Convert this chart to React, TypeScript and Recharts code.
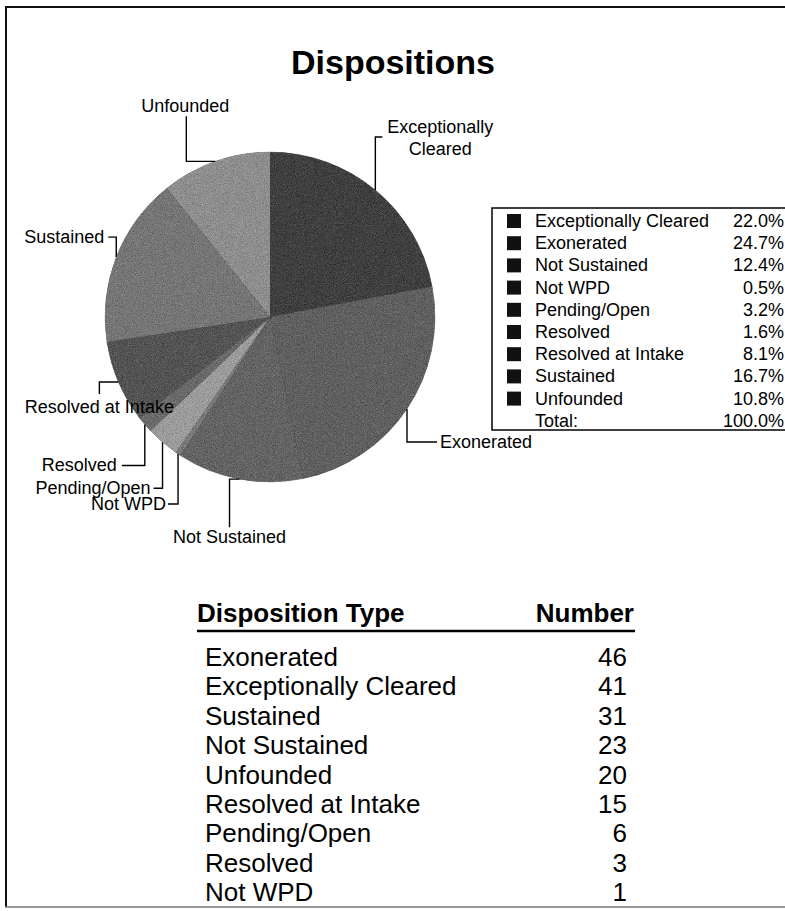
import { PieChart, Pie, Cell } from "recharts";

const categories = [
  "Exceptionally Cleared",
  "Exonerated",
  "Not Sustained",
  "Not WPD",
  "Pending/Open",
  "Resolved",
  "Resolved at Intake",
  "Sustained",
  "Unfounded",
];
const counts = [41, 46, 23, 1, 6, 3, 15, 31, 20];
const sliceColors = ["#404040", "#606060", "#646464", "#7a7a7a", "#9c9c9c", "#6a6a6a", "#545454", "#767676", "#8e8e8e"];

const FONT = "'Liberation Sans', Arial, sans-serif";

// leader line shape per slice: "vh" = vertical then horizontal, "hv" = horizontal then vertical
const labelLayout = [
  { path: "vh", a: -53, b: 7, tx: 58, ty: -4, anchor: "middle", lines: ["Exceptionally", "Cleared"] },
  { path: "vh", a: 33, b: 30, tx: 3, ty: 6, anchor: "start" },
  { path: "hv", a: -10, b: 48, tx: 0, ty: 16, anchor: "middle" },
  { path: "vh", a: 50, b: -10, tx: -2, ty: 6, anchor: "end" },
  { path: "vh", a: 46, b: -9, tx: -3, ty: 6, anchor: "end" },
  { path: "vh", a: 41, b: -23, tx: -5, ty: 6, anchor: "end" },
  { path: "hv", a: -19, b: 12, tx: 0, ty: 19, anchor: "middle" },
  { path: "vh", a: -20, b: -8, tx: -4, ty: 6, anchor: "end" },
  { path: "hv", a: -29, b: -45, tx: -1, ty: -4, anchor: "middle" },
];

const total = counts.reduce((s, v) => s + v, 0);
const pieData = categories.map((name, i) => ({ name, value: counts[i] }));
const tableRows = [...pieData].sort((a, b) => b.value - a.value);

const renderLabel = (props: any) => {
  const { cx, cy, midAngle, outerRadius, index } = props;
  const rad = Math.PI / 180;
  const ex = cx + outerRadius * Math.cos(-midAngle * rad);
  const ey = cy + outerRadius * Math.sin(-midAngle * rad);
  const L = labelLayout[index];
  let mx, my, x2, y2;
  if (L.path === "vh") {
    mx = ex;
    my = ey + L.a;
    x2 = ex + L.b;
    y2 = my;
  } else {
    mx = ex + L.a;
    my = ey;
    x2 = mx;
    y2 = ey + L.b;
  }
  const lines = L.lines || [categories[index]];
  return (
    <g key={`lbl-${index}`}>
      <polyline
        points={`${ex},${ey} ${mx},${my} ${x2},${y2}`}
        fill="none"
        stroke="#000"
        strokeWidth={1.4}
      />
      <text
        x={x2 + L.tx}
        y={y2 + L.ty}
        textAnchor={L.anchor as any}
        fontFamily={FONT}
        fontSize={18}
        fill="#000"
      >
        {lines.map((ln: string, k: number) => (
          <tspan key={k} x={x2 + L.tx} dy={k === 0 ? 0 : 22}>
            {ln}
          </tspan>
        ))}
      </text>
    </g>
  );
};

export default function App() {
  const legendTop = 208;
  const rowH = 22.2;
  return (
    <div style={{ position: "absolute", left: 0, top: 0, width: 785, height: 911, background: "#fff", overflow: "hidden" }}>
      <svg width={785} height={911} style={{ position: "absolute", left: 0, top: 0 }}>
        <defs>
          <filter id="grain" colorInterpolationFilters="sRGB">
            <feTurbulence type="fractalNoise" baseFrequency="1.1" numOctaves="2" seed="7" result="noise" />
            <feColorMatrix
              in="noise"
              type="matrix"
              values="0.33 0.33 0.33 0 0  0.33 0.33 0.33 0 0  0.33 0.33 0.33 0 0  0 0 0 0 1"
              result="gray"
            />
            <feComposite in="SourceGraphic" in2="gray" operator="arithmetic" k1="0" k2="1" k3="0.6" k4="-0.3" result="mix" />
            <feComposite in="mix" in2="SourceGraphic" operator="in" />
          </filter>
        </defs>
        {/* frame */}
        <line x1={5} y1={7} x2={785} y2={7} stroke="#111" strokeWidth={2} />
        <line x1={6} y1={6} x2={6} y2={907} stroke="#111" strokeWidth={2} />
        <line x1={5} y1={907} x2={785} y2={907} stroke="#777" strokeWidth={1.5} />

        <text x={393} y={74} textAnchor="middle" fontFamily={FONT} fontWeight="bold" fontSize={34}>
          Dispositions
        </text>

        {/* legend box */}
        <rect x={492} y={legendTop} width={310} height={222} fill="#fff" stroke="#000" strokeWidth={1.5} />
        {pieData.map((d, i) => {
          const cy = legendTop + 13 + i * rowH;
          return (
            <g key={d.name}>
              <rect x={507} y={cy - 7} width={14} height={14} fill="#111" />
              <text x={535} y={cy + 6} fontFamily={FONT} fontSize={18}>
                {d.name}
              </text>
              <text x={784} y={cy + 6} textAnchor="end" fontFamily={FONT} fontSize={18}>
                {((d.value / total) * 100).toFixed(1)}%
              </text>
            </g>
          );
        })}
        <text x={535} y={legendTop + 13 + 9 * rowH + 6} fontFamily={FONT} fontSize={18}>
          Total:
        </text>
        <text x={784} y={legendTop + 13 + 9 * rowH + 6} textAnchor="end" fontFamily={FONT} fontSize={18}>
          100.0%
        </text>

        {/* table */}
        <text x={197} y={622} fontFamily={FONT} fontWeight="bold" fontSize={26}>
          Disposition Type
        </text>
        <text x={634} y={622} textAnchor="end" fontFamily={FONT} fontWeight="bold" fontSize={26}>
          Number
        </text>
        <line x1={197} y1={631} x2={635} y2={631} stroke="#000" strokeWidth={2.5} />
        {tableRows.map((r, i) => {
          const y = 666 + i * 29.4;
          return (
            <g key={r.name}>
              <text x={205} y={y} fontFamily={FONT} fontSize={26}>
                {r.name}
              </text>
              <text x={627} y={y} textAnchor="end" fontFamily={FONT} fontSize={26}>
                {r.value}
              </text>
            </g>
          );
        })}
      </svg>

      <div style={{ position: "absolute", left: 0, top: 0 }}>
        <PieChart width={785} height={911} margin={{ top: 0, right: 0, bottom: 0, left: 0 }}>
          <Pie
            data={pieData}
            dataKey="value"
            nameKey="name"
            cx={270}
            cy={317}
            outerRadius={165}
            startAngle={90}
            endAngle={-270}
            labelLine={false}
            label={renderLabel}
            isAnimationActive={false}
          >
            {pieData.map((d, i) => (
              <Cell
                key={d.name}
                fill={sliceColors[i]}
                stroke={sliceColors[i]}
                strokeWidth={0.5}
                filter="url(#grain)"
              />
            ))}
          </Pie>
        </PieChart>
      </div>
    </div>
  );
}
